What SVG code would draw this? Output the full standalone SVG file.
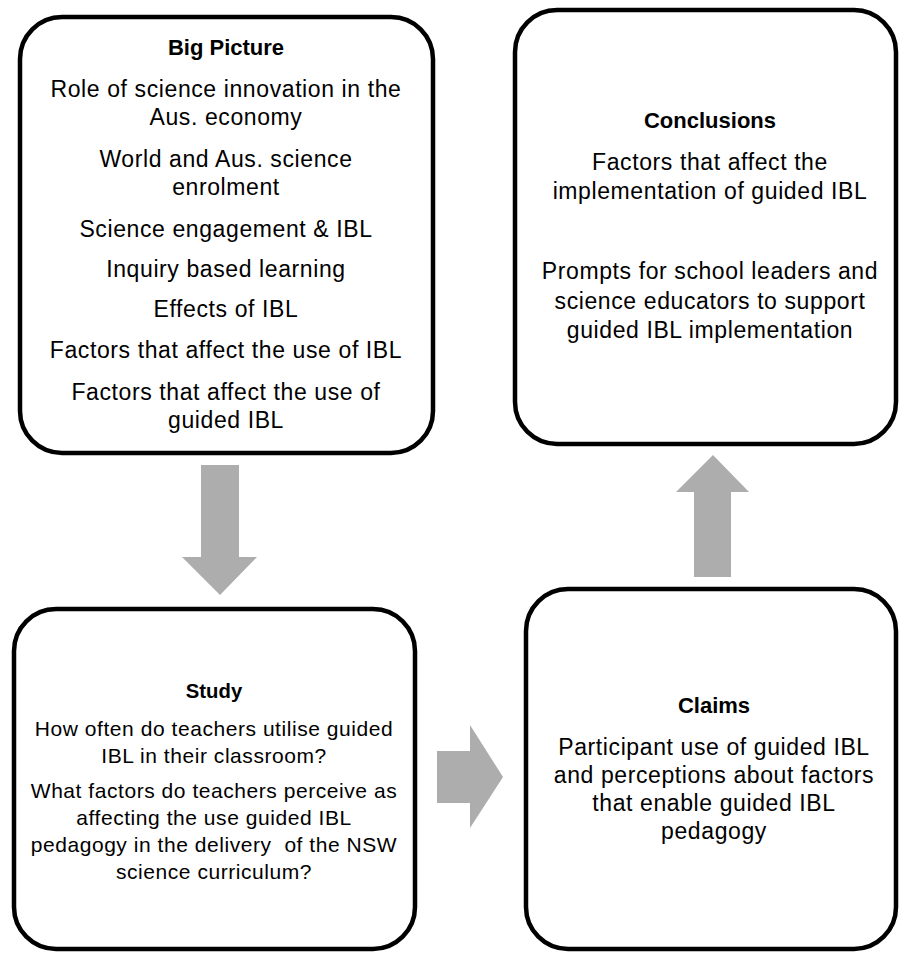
<svg xmlns="http://www.w3.org/2000/svg" width="899" height="953" viewBox="0 0 899 953">
<style>
.box{fill:#fff;stroke:#000;stroke-width:4.5}
.arrow{fill:#adadad}
text{font-family:"Liberation Sans",Arial,sans-serif;fill:#000;text-anchor:middle}
.t{font-size:23px;letter-spacing:0.6px}
.s{font-size:21px;letter-spacing:0.55px}
.h{font-size:22px;font-weight:bold}
.hs{font-size:20.3px;font-weight:bold}
</style>
<rect width="899" height="953" fill="#fff"/>
<g id="connectors">
<polygon class="arrow" points="201,465 239,465 239,557 257,557 220,595 182,557 201,557"/>
<polygon class="arrow" points="437,751 470,751 470,725 503,777 470,828 470,803 437,803"/>
<polygon class="arrow" points="694,577 731,577 731,492 749,492 713,455 676,492 694,492"/>
</g>
<g id="big-picture">
<rect class="box" x="20" y="17" width="413" height="436" rx="42"/>
<text class="h" x="226" y="55">Big Picture</text>
<text class="t" x="226" y="97">Role of science innovation in the</text>
<text class="t" x="226" y="125">Aus. economy</text>
<text class="t" x="226" y="167">World and Aus. science</text>
<text class="t" x="226" y="195">enrolment</text>
<text class="t" x="226" y="237">Science engagement &amp; IBL</text>
<text class="t" x="226" y="277">Inquiry based learning</text>
<text class="t" x="226" y="317">Effects of IBL</text>
<text class="t" x="226" y="358">Factors that affect the use of IBL</text>
<text class="t" x="226" y="400">Factors that affect the use of</text>
<text class="t" x="226" y="428">guided IBL</text>
</g>
<g id="conclusions">
<rect class="box" x="515" y="10" width="381" height="434" rx="42"/>
<text class="h" x="710" y="128">Conclusions</text>
<text class="t" x="710" y="170">Factors that affect the</text>
<text class="t" x="710" y="199">implementation of guided IBL</text>
<text class="t" x="710" y="279">Prompts for school leaders and</text>
<text class="t" x="710" y="309">science educators to support</text>
<text class="t" x="710" y="338">guided IBL implementation</text>
</g>
<g id="study">
<rect class="box" x="14" y="609" width="401" height="340" rx="42"/>
<text class="hs" x="214" y="698">Study</text>
<text class="s" x="214" y="736">How often do teachers utilise guided</text>
<text class="s" x="214" y="763">IBL in their classroom?</text>
<text class="s" x="214" y="798">What factors do teachers perceive as</text>
<text class="s" x="214" y="825">affecting the use guided IBL</text>
<text class="s" x="214" y="852" xml:space="preserve">pedagogy in the delivery  of the NSW</text>
<text class="s" x="214" y="879">science curriculum?</text>
</g>
<g id="claims">
<rect class="box" x="526" y="589" width="370" height="360" rx="42"/>
<text class="h" x="714" y="713">Claims</text>
<text class="t" x="714" y="755">Participant use of guided IBL</text>
<text class="t" x="714" y="783">and perceptions about factors</text>
<text class="t" x="714" y="811">that enable guided IBL</text>
<text class="t" x="714" y="839">pedagogy</text>
</g>
</svg>
